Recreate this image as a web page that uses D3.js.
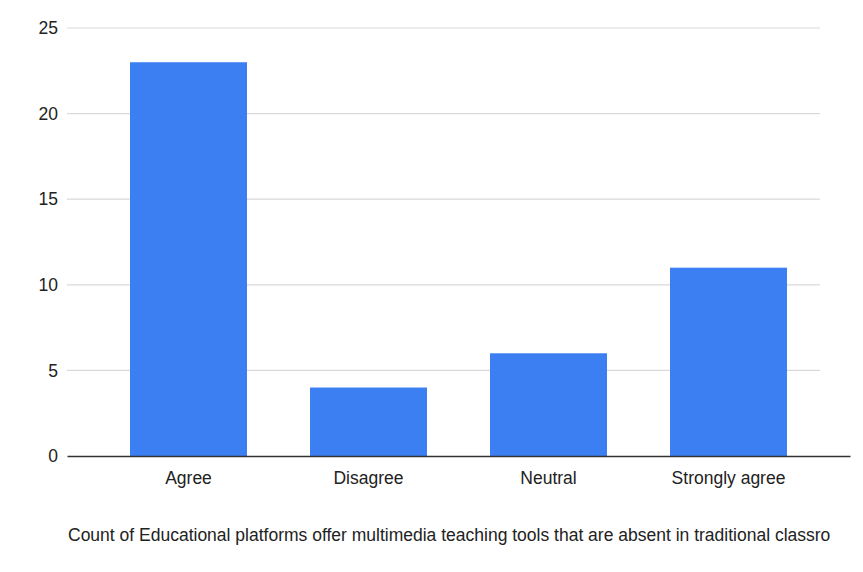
<!DOCTYPE html>
<html><head><meta charset="utf-8">
<script src="https://cdn.jsdelivr.net/npm/d3@7"></script>
<style>body{margin:0;background:#fff;}svg{display:block;font-family:"Liberation Sans",Arial,sans-serif;}</style>
</head><body>
<script>
const categories = ["Agree", "Disagree", "Neutral", "Strongly agree"];
const counts = [23, 4, 6, 11];
const yTicks = [0, 5, 10, 15, 20, 25];
const title = "Count of Educational platforms offer multimedia teaching tools that are absent in traditional classro";

const W = 863, H = 572;
const FS = 17.5;
const svg = d3.select("body").append("svg").attr("width", W).attr("height", H);
const x = d3.scaleBand().domain(categories).range([67, 850]).paddingInner(0.35).paddingOuter(0.35);
const y = d3.scaleLinear().domain([0, 25]).range([456, 28]);

// gridlines
svg.append("g").selectAll("line").data(yTicks.filter(d => d > 0)).join("line")
  .attr("x1", 67).attr("x2", 820)
  .attr("y1", d => y(d)).attr("y2", d => y(d))
  .attr("stroke", "#d9d9d9").attr("stroke-width", 1.2);

// y axis labels
const yAxis = d3.axisLeft(y).tickValues(yTicks).tickSize(0).tickPadding(0);
const gy = svg.append("g").attr("transform", "translate(58,0)").call(yAxis);
gy.select(".domain").remove();
gy.selectAll("text").attr("font-size", FS).attr("fill", "#222").attr("font-family", "Liberation Sans, Arial, sans-serif");

// bars
svg.append("g").selectAll("rect").data(categories).join("rect")
  .attr("x", d => x(d)).attr("width", x.bandwidth())
  .attr("y", (d, i) => y(counts[i])).attr("height", (d, i) => y(0) - y(counts[i]))
  .attr("fill", "#3b7ff2");

// baseline + x axis
const xAxis = d3.axisBottom(x).tickSize(0).tickPadding(16);
const gx = svg.append("g").attr("transform", `translate(0,${y(0)})`).call(xAxis);
gx.select(".domain").attr("stroke", "#333").attr("stroke-width", 1.5);
gx.selectAll("text").attr("font-size", FS).attr("fill", "#222").attr("font-family", "Liberation Sans, Arial, sans-serif");

// title
svg.append("text").attr("x", 68).attr("y", 541).attr("font-size", FS).attr("fill", "#222")
  .text(title);
</script>
</body></html>
